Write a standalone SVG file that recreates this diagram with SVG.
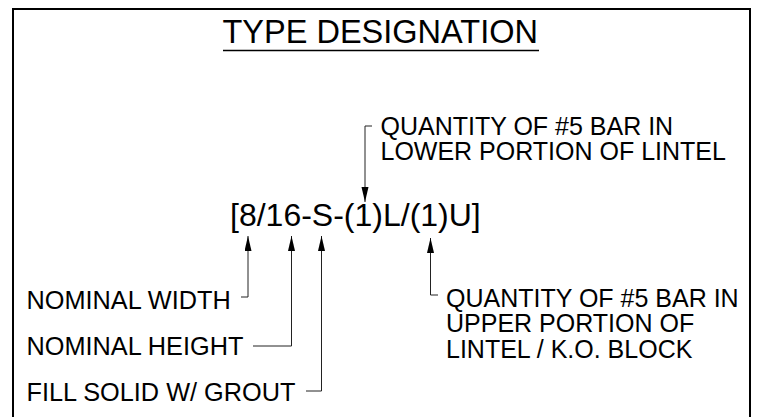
<svg xmlns="http://www.w3.org/2000/svg" width="759" height="417" viewBox="0 0 759 417">
<style>
text{font-family:"Liberation Sans",Arial,sans-serif;fill:#000}
.t{font-size:32.5px}
.d{font-size:32px}
.l{font-size:25px}
.ll{font-size:25.3px}
.c{fill:none;stroke:#222;stroke-width:1}
</style>
<defs>
<marker id="ah" markerUnits="userSpaceOnUse" markerWidth="16" markerHeight="8" refX="15" refY="3.5" orient="auto">
<path d="M0,0 L15,3.5 L0,7 z" fill="#000"/>
</marker>
</defs>
<rect width="759" height="417" fill="#fff"/>
<path d="M13,418 V9 H750 V418" fill="none" stroke="#000" stroke-width="2"/>
<g id="title">
<text class="t" x="222.5" y="42.5">TYPE DESIGNATION</text>
<line x1="223" y1="50.5" x2="539" y2="50.5" stroke="#000" stroke-width="1.5"/>
</g>
<g id="designation">
<text class="d" x="230" y="226">[8/16-S-(1)L/(1)U]</text>
</g>
<g id="lower-lintel">
<text class="l" x="380.5" y="134.5">QUANTITY OF #5 BAR IN</text>
<text class="l" x="380.5" y="160">LOWER PORTION OF LINTEL</text>
</g>
<g id="upper-lintel">
<text class="l" x="446" y="306.5">QUANTITY OF #5 BAR IN</text>
<text class="l" x="446" y="332">UPPER PORTION OF</text>
<text class="l" x="446" y="357.5">LINTEL / K.O. BLOCK</text>
</g>
<g id="nominal-width"><text class="ll" x="26.5" y="309">NOMINAL WIDTH</text></g>
<g id="nominal-height"><text class="ll" x="26.5" y="355">NOMINAL HEIGHT</text></g>
<g id="fill-solid"><text class="ll" x="26.5" y="401">FILL SOLID W/ GROUT</text></g>
<g id="connectors">
<path class="c" d="M372,126 H365 V202" marker-end="url(#ah)"/>
<path class="c" d="M241,297 H248 V236" marker-end="url(#ah)"/>
<path class="c" d="M253,346 H291.5 V236" marker-end="url(#ah)"/>
<path class="c" d="M306,391 H321.5 V236" marker-end="url(#ah)"/>
<path class="c" d="M438,295 H430.5 V238" marker-end="url(#ah)"/>
</g>
</svg>
